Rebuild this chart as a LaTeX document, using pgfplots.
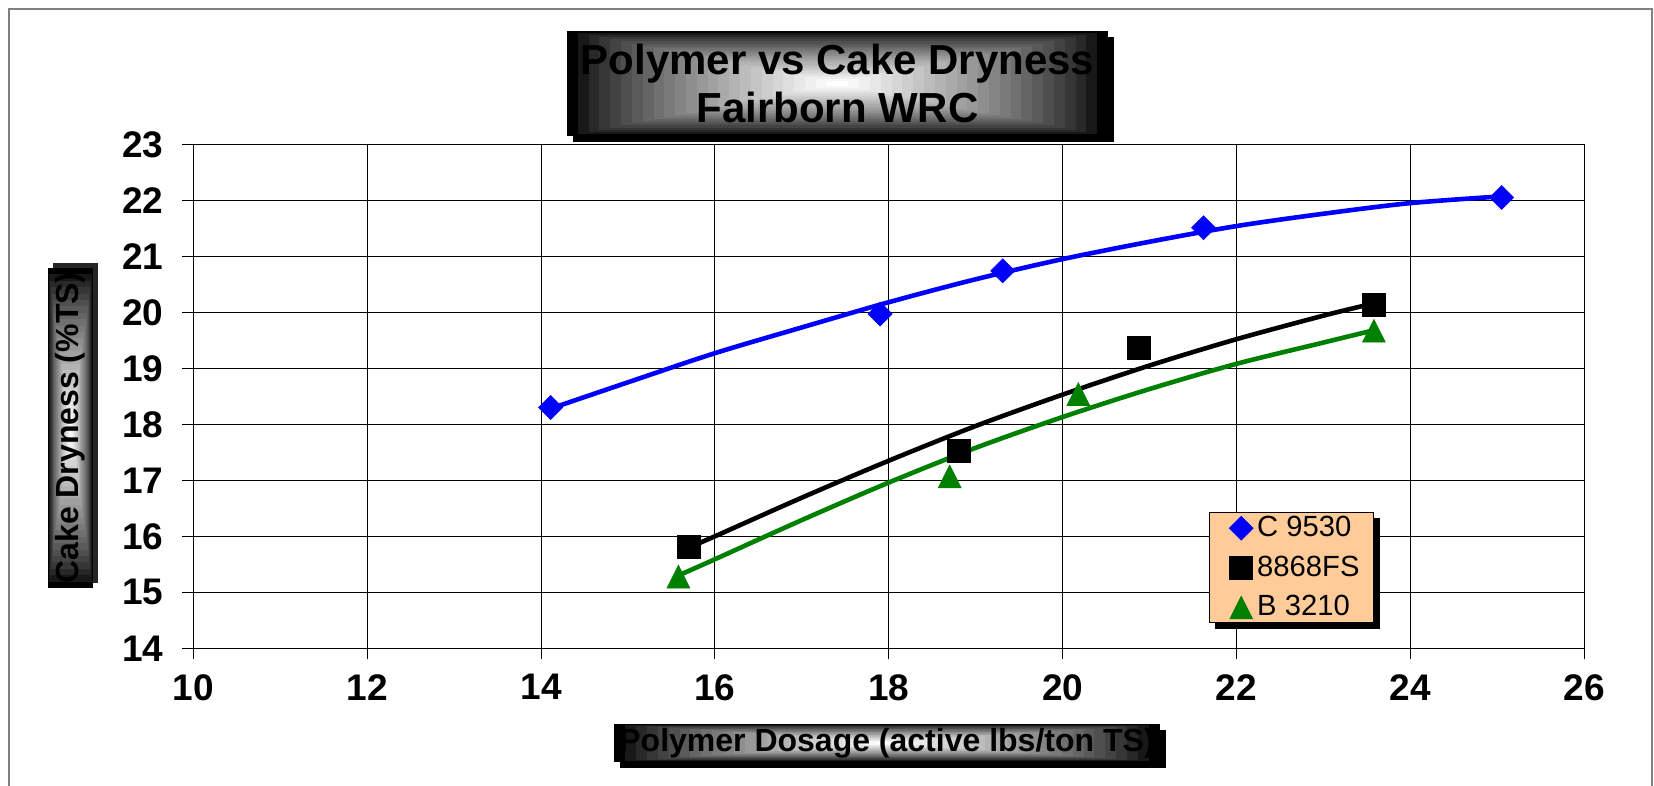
\documentclass[border=0pt]{standalone}
\usepackage{fontspec}
\setmainfont{Liberation Sans}
\usepackage{pgfplots}
\pgfplotsset{compat=1.18}
\usetikzlibrary{backgrounds}
\definecolor{peach}{RGB}{255,204,153}
\definecolor{mygreen}{RGB}{0,128,0}
\definecolor{myblue}{RGB}{0,0,255}
\definecolor{framegray}{RGB}{128,128,128}
% nested rectangles: rectangular gradient black (edge) -> white (centre)
\newcommand{\gradbox}[4]{%
  \foreach \i in {0,...,24}{%
    \pgfmathsetmacro{\dx}{(#3-#1)*\i/50}%
    \pgfmathsetmacro{\dy}{(#4-#2)*\i/50}%
    \pgfmathsetmacro{\pc}{100*(\i/24)^0.75}%
    \fill[white!\pc!black] (#1pt+\dx pt,#2pt+\dy pt) rectangle (#3pt-\dx pt,#4pt-\dy pt);
  }}
\begin{document}
\begin{tikzpicture}
% outer frame
\draw[framegray, line width=0.75pt] (4.5pt,-5pt) -- (4.5pt,388.5pt) -- (826pt,388.5pt) -- (826pt,-5pt);
% title box
\fill[black] (286.5pt,322pt) rectangle (557pt,374.5pt);
\gradbox{283.5}{325}{554}{377.5}
\node[align=center, inner sep=0pt, font=\bfseries\fontsize{21}{24}\selectfont] at (418.75pt,351.25pt) {Polymer vs Cake Dryness\\Fairborn WRC};
\begin{axis}[
  at={(96.65pt,68.85pt)}, anchor=south west,
  scale only axis, width=695.5pt, height=252pt,
  xmin=10, xmax=26, ymin=14, ymax=23,
  xtick={10,12,...,26}, ytick={14,15,...,23},
  grid=major,
  major grid style={black, line width=0.5pt},
  axis line style={black, line width=0.5pt},
  tick style={black, line width=0.5pt},
  tick align=outside, tick pos=left,
  major tick length=5.5pt,
  ticklabel style={font=\bfseries\fontsize{18.5}{20}\selectfont},
  /pgf/number format/assume math mode=true,
  yticklabel style={xshift=-6pt},
  xticklabel style={yshift=-4pt},
  legend style={at={(0.730,0.2704)}, anchor=north west, name=leg,
    fill=peach, draw=black, line width=0.5pt,
    font=\fontsize{14.6}{16}\selectfont,
    inner xsep=5pt, inner ysep=0pt, row sep=4pt},
  legend cell align=left,
  legend image code/.code={\path[draw=none, fill=none] (-11pt,-1pt) rectangle (6pt,1pt); \draw[#1] plot coordinates {(0pt,0pt)};},
]
% fitted curves
\addplot[myblue, line width=2.3pt, smooth, forget plot] coordinates {
 (14.11,18.28) (15,18.75) (16,19.27) (17,19.73) (18,20.18) (19,20.59)
 (20,20.95) (21,21.26) (22,21.54) (23,21.76) (24,21.95) (25.05,22.07)};
\addplot[black, line width=2.3pt, smooth, forget plot] coordinates {
 (15.70,15.80) (16,16.00) (17,16.69) (18,17.35) (19,17.97) (20,18.53)
 (21,19.05) (22,19.52) (23,19.94) (23.58,20.16)};
\addplot[mygreen, line width=2.3pt, smooth, forget plot] coordinates {
 (15.58,15.30) (16,15.59) (17,16.29) (18,16.96) (19,17.58) (20,18.13)
 (21,18.63) (22,19.08) (23,19.46) (23.58,19.68)};
% data
\addplot[only marks, mark=diamond*, mark size=6pt, color=myblue, line width=0.3pt,
  mark options={xscale=1.333}] coordinates {
 (14.11,18.30) (17.90,19.97) (19.31,20.74) (21.62,21.51) (25.05,22.05)};
\addlegendentry{C 9530}
\addplot[only marks, mark=square*, mark size=5.75pt, color=black, line width=0.3pt] coordinates {
 (15.70,15.82) (18.81,17.53) (20.88,19.37) (23.58,20.13)};
\addlegendentry{8868FS}
\addplot[only marks, mark=triangle*, mark size=6.6pt, color=mygreen, line width=0.3pt,
  mark options={yscale=1.15, yshift=-1.9pt}] coordinates {
 (15.58,15.29) (18.70,17.08) (20.18,18.55) (23.58,19.68)};
\addlegendentry{B 3210}
\end{axis}
% legend shadow (behind)
\begin{scope}[on background layer]
\fill[black] ([shift={(3pt,-3pt)}]leg.south west) rectangle ([shift={(3pt,-3pt)}]leg.north east);
\end{scope}
% x label box
\fill[black] (310pt,9pt) rectangle (583pt,28pt);
\gradbox{307}{12}{580}{31}
\node[inner sep=0pt, font=\bfseries\fontsize{16}{18}\selectfont] at (443.5pt,21.5pt) {Polymer Dosage (active lbs/ton TS)};
% y label box
\fill[black!85] (26.5pt,101.5pt) rectangle (49pt,261.5pt);
\gradbox{24}{99}{46.5}{259}
\node[inner sep=0pt, rotate=90, font=\bfseries\fontsize{16}{18}\selectfont] at (35.25pt,179pt) {Cake Dryness (\%TS)};
\pgfresetboundingbox
\useasboundingbox (0pt,0pt) rectangle (827pt,393pt);
\end{tikzpicture}
\end{document}
